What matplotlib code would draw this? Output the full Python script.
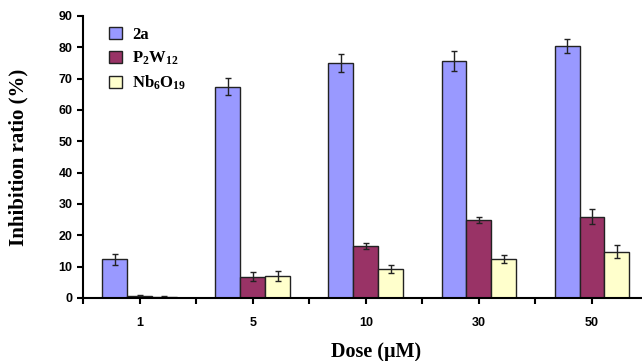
import numpy as np
import matplotlib
matplotlib.use("Agg")
from matplotlib import pyplot as plt

plt.rcParams['mathtext.fontset'] = 'custom'
plt.rcParams['mathtext.rm'] = 'Liberation Serif:bold'
plt.rcParams['mathtext.it'] = 'Liberation Serif:bold'
plt.rcParams['mathtext.bf'] = 'Liberation Serif:bold'

# data
doses = ['1', '5', '10', '30', '50']
series = ['2a', 'P$_2$W$_{12}$', 'Nb$_6$O$_{19}$']
val_2a = [12.3, 67.5, 75.0, 75.5, 80.5]
err_2a = [1.8, 2.6, 3.0, 3.2, 2.2]
val_pw = [0.5, 6.8, 16.7, 25.0, 26.0]
err_pw = [0.3, 1.5, 1.0, 1.0, 2.5]
val_nb = [0.3, 7.0, 9.3, 12.5, 14.8]
err_nb = [0.2, 1.5, 1.2, 1.3, 2.0]
colors = ['#9999ff', '#993366', '#ffffcc']

fig = plt.figure(figsize=(6.42, 3.61), dpi=100)
ax = fig.add_axes([83/642, 63/361, (648.5-83)/642, (298-16)/361])

x = np.arange(len(doses))
w = 0.22
for i, (v, e) in enumerate([(val_2a, err_2a), (val_pw, err_pw), (val_nb, err_nb)]):
    ax.bar(x + (i - 1) * w, v, w, yerr=e, color=colors[i], edgecolor='#222222',
           linewidth=1.0, label=series[i],
           error_kw=dict(ecolor='#222222', elinewidth=1.0, capsize=2.5, capthick=1.0))

ax.set_xlim(-0.5, 4.5)
ax.set_ylim(0, 90)
ax.set_yticks(range(0, 91, 10))
ax.set_xticks(x)
ax.set_xticklabels(doses)
ax.set_xticks(np.arange(-0.5, 4.6, 1.0), minor=True)
ax.tick_params(axis='both', which='both', direction='out', length=4, width=1.5)
ax.tick_params(axis='x', pad=10)
for lab in ax.get_xticklabels() + ax.get_yticklabels():
    lab.set_fontfamily('Liberation Sans')
    lab.set_fontweight('bold')
    lab.set_fontsize(9)
for s in ['top', 'right']:
    ax.spines[s].set_visible(False)
for s in ['left', 'bottom']:
    ax.spines[s].set_linewidth(1.5)

ax.set_ylabel('Inhibition ratio (%)', fontfamily='Liberation Serif', fontweight='bold',
              fontsize=15)
ax.set_xlabel('Dose (μM)', fontfamily='Liberation Serif', fontweight='bold',
              fontsize=14.5)
ax.yaxis.set_label_coords(-0.097, 0.5)
ax.xaxis.set_label_coords(0.518, -0.155)

leg = ax.legend(loc='upper left', bbox_to_anchor=(0.02, 1.015), frameon=False,
                handlelength=0.75, handleheight=0.75, handletextpad=0.6,
                labelspacing=0.4, prop={'family': 'Liberation Serif', 'weight': 'bold', 'size': 12})

fig.savefig('out.png', dpi=100)
